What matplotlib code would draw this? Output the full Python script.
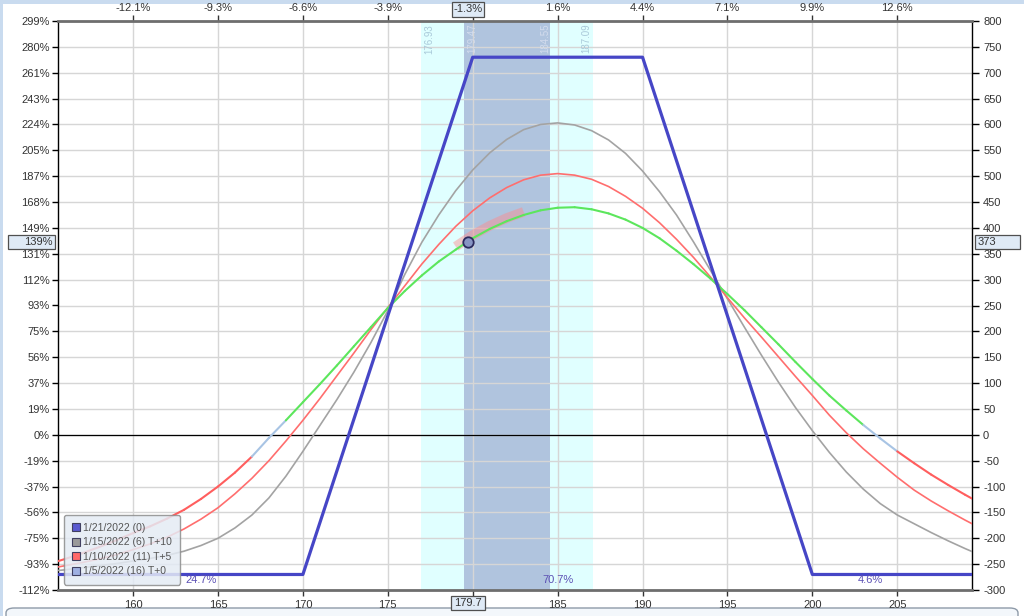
import numpy as np
import matplotlib
matplotlib.use('Agg')
import matplotlib.pyplot as plt
from matplotlib.collections import LineCollection
from matplotlib.lines import Line2D
from matplotlib.patches import Rectangle, FancyBboxPatch

plt.rcParams['font.family'] = ['Liberation Sans', 'DejaVu Sans']

# ---------------- data ----------------
price = list(range(155, 211))
pnl_t10 = [-264, -261, -257, -253, -249, -244, -239, -233, -225, -214,
           -200, -180, -155, -122, -80, -32, 18, 68, 121, 178,
           240, 310, 372, 425, 472, 512, 545, 571, 590, 600,
           603, 599, 588, 570, 544, 510, 470, 425, 373, 318,
           263, 208, 154, 102, 53, 8, -34, -72, -105, -133,
           -155, -172, -189, -205, -220, -234]
pnl_t5 = [-259, -253, -247, -240, -232, -222, -211, -198, -182, -163,
          -141, -114, -84, -50, -12, 28, 70, 114, 158, 203,
          246, 288, 330, 368, 403, 433, 458, 478, 493, 502,
          505, 502, 494, 480, 461, 438, 410, 378, 343, 305,
          265, 226, 189, 151, 113, 76, 38, 4, -27, -55,
          -82, -107, -128, -147, -165, -182]
pnl_t0 = [-250, -240, -229, -217, -204, -190, -177, -162, -145, -124,
          -100, -73, -42, -6, 28, 63, 98, 134, 171, 208,
          245, 278, 308, 335, 358, 380, 398, 413, 425, 434,
          439, 440, 436, 428, 416, 400, 380, 356, 330, 302,
          272, 241, 208, 175, 141, 108, 76, 47, 19, -7,
          -32, -55, -77, -97, -116, -134]
exp_price = [155, 170, 180, 190, 200, 210]
exp_pnl = [-270, -270, 730, 730, -270, -270]

x_ticks = [160, 165, 170, 175, 180, 185, 190, 195, 200, 205]
x_tick_labels = ['160', '165', '170', '175', '', '185', '190', '195', '200', '205']
top_tick_labels = ['-12.1%', '-9.3%', '-6.6%', '-3.9%', '', '1.6%', '4.4%',
                   '7.1%', '9.9%', '12.6%']
y_ticks = list(range(-300, 801, 50))
y_pct_labels = ['-112%', '-93%', '-75%', '-56%', '-37%', '-19%', '0%', '19%', '37%',
                '56%', '75%', '93%', '112%', '131%', '149%', '168%', '187%', '205%',
                '224%', '243%', '261%', '280%', '299%']

current_price = 179.7
current_pnl = 373
current_pct = '139%'
current_move = '-1.3%'
band_outer = [176.93, 187.09]
band_inner = [179.47, 184.55]
prob_labels = ['24.7%', '70.7%', '4.6%']
legend_labels = ['1/21/2022 (0)', '1/15/2022 (6) T+10', '1/10/2022 (11) T+5', '1/5/2022 (16) T+0']

# ---------------- figure ----------------
W, H = 1024, 616
fig = plt.figure(figsize=(W / 100, H / 100), dpi=100)
fig.patch.set_facecolor('white')
ax = fig.add_axes([58 / W, 1 - 590 / H, (972 - 58) / W, (590 - 21) / H])
ax.set_xlim(155.58, 209.4)
ax.set_ylim(-300, 800)

TXT = '#333333'

# bands
ax.axvspan(band_outer[0], band_outer[1], color='#e0ffff', zorder=0, lw=0)
ax.axvspan(band_inner[0], band_inner[1], color='#b0c4de', zorder=0.5, lw=0)

# grid
for xt in x_ticks:
    ax.axvline(xt, color='#d6d6d6', lw=1, zorder=1)
for yt in y_ticks:
    ax.axhline(yt, color='#d6d6d6', lw=1, zorder=1)
ax.axhline(0, color='black', lw=0.9, zorder=2)

# band edge labels
band_lbls = [(band_outer[0], 3, 'left', '#a9c9d9'),
             (band_inner[0], 2.5, 'left', '#d3dced'),
             (band_inner[1], 0, 'right', '#d3dced'),
             (band_outer[1], -1.5, 'right', '#a9c9d9')]
for bx, off, ha, col in band_lbls:
    ax.annotate(f'{bx:.2f}', xy=(bx, 1), xycoords=('data', 'axes fraction'),
                xytext=(off, -2), textcoords='offset points', rotation=90,
                ha=ha, va='top', fontsize=7, color=col, zorder=2)

# curves
ax.plot(price, pnl_t10, color='#a3a3a3', lw=1.2, zorder=3)
ax.plot(price, pnl_t5, color='#ff6e6e', lw=1.2, zorder=3.2)

# highlight around current point
hl = [(p, v) for p, v in zip(price, pnl_t0) if 179 <= p <= 183]
ax.plot([h[0] for h in hl], [h[1] + 6 for h in hl], color='#ff8a8a', lw=7,
        alpha=0.45, solid_capstyle='butt', zorder=3.3)

segs, cols = [], []
for i in range(len(price) - 1):
    mid = (pnl_t0[i] + pnl_t0[i + 1]) / 2
    segs.append([(price[i], pnl_t0[i]), (price[i + 1], pnl_t0[i + 1])])
    if mid >= 25:
        cols.append('#5ce65c')
    elif mid >= -40:
        cols.append('#a8c4e4')
    else:
        cols.append('#ff5e5e')
ax.add_collection(LineCollection(segs, colors=cols, linewidths=1.5, zorder=3.5,
                                 capstyle='round'))

ax.plot(exp_price, exp_pnl, color='#4646c6', lw=2.3, zorder=4)

ax.plot(current_price, current_pnl, 'o', ms=7.5, mfc='#8795c4', mec='#2b2b5e',
        mew=1.3, zorder=6)

# probability labels
for lbl, px_, py_ in zip(prob_labels, [164.0, 185.0, 203.4], [-281, -281, -281]):
    ax.text(px_, py_, lbl, ha='center', va='center', fontsize=8, color='#5b50b4',
            zorder=5)

# axes styling
for s in ['top', 'bottom']:
    ax.spines[s].set_color('#6e6e6e')
    ax.spines[s].set_linewidth(2)
for s in ['left', 'right']:
    ax.spines[s].set_color('black')
    ax.spines[s].set_linewidth(1)

ax.set_xticks(x_ticks)
ax.set_xticklabels(x_tick_labels)
ax.tick_params(axis='x', direction='out', length=4, width=1, color='#333333',
               labelsize=8, labelcolor=TXT, pad=3)
ax.yaxis.tick_right()
ax.set_yticks(y_ticks)
ax.set_yticklabels([str(v) for v in y_ticks])
ax.tick_params(axis='y', direction='out', length=5, width=1, color='black',
               labelsize=8, labelcolor=TXT, pad=3)

secy = ax.secondary_yaxis('left')
secy.set_yticks(y_ticks)
secy.set_yticklabels(y_pct_labels)
secy.tick_params(direction='out', length=4, width=1, color='black', labelsize=8,
                 labelcolor=TXT, pad=2)
secy.spines['left'].set_visible(False)

secx = ax.secondary_xaxis('top')
secx.set_xticks(x_ticks)
secx.set_xticklabels(top_tick_labels)
secx.tick_params(direction='out', length=4, width=1, color='#333333', labelsize=8,
                 labelcolor=TXT, pad=2)
secx.spines['top'].set_visible(False)

# legend
handles = [Line2D([], [], ls='none', marker='s', ms=6, mfc=c, mec='#404060', mew=0.8)
           for c in ['#5a5ad0', '#9a9a9a', '#ff6a6a', '#9fb0e2']]
leg = ax.legend(handles, legend_labels, loc='lower left', bbox_to_anchor=(0.004, 0.006),
                fontsize=7.5, frameon=True, fancybox=True, facecolor='#e4ebf4',
                edgecolor='#8c8c8c', framealpha=0.85, handlelength=0.7,
                handletextpad=0.35, labelspacing=0.42, borderpad=0.8,
                borderaxespad=0.2)
for t in leg.get_texts():
    t.set_color('#555555')
leg.set_zorder(7)

# ---------------- highlighted boxes ----------------
fig.canvas.draw()
BOXFC = '#dfeaf6'
BOXEC = '#505050'


def px_box(x0, y0, x1, y1):
    # y given in display pixels from bottom
    fig.patches.append(Rectangle((x0 / W, y0 / H), (x1 - x0) / W, (y1 - y0) / H,
                                 transform=fig.transFigure, fc=BOXFC, ec=BOXEC,
                                 lw=0.9, zorder=20))


cx, cy = ax.transData.transform((current_price, current_pnl))
ax_l, ax_b = ax.transAxes.transform((0, 0))
ax_r, ax_t = ax.transAxes.transform((1, 1))

# left (percent)
px_box(8, cy - 7, 55, cy + 7)
fig.text(53 / W, cy / H, current_pct, ha='right', va='center', fontsize=8,
         color=TXT, zorder=21)
# right (value)
px_box(975, cy - 7, 1020, cy + 7)
fig.text(978 / W, cy / H, str(current_pnl), ha='left', va='center', fontsize=8,
         color=TXT, zorder=21)
# top (move)
px_box(cx - 16, ax_t + 4, cx + 16, ax_t + 19)
fig.text(cx / W, (ax_t + 11.5) / H, current_move, ha='center', va='center',
         fontsize=8, color=TXT, zorder=21)
# bottom (price)
px_box(cx - 17, ax_b - 20, cx + 17, ax_b - 6)
fig.text(cx / W, (ax_b - 13) / H, f'{current_price}', ha='center', va='center',
         fontsize=8, color=TXT, zorder=21)

# frame decorations (behind everything)
fig.patches.append(Rectangle((0, 1 - 4 / H), 1, 4 / H, transform=fig.transFigure,
                             fc='#c9dbef', ec='none', zorder=-5))
fig.patches.append(Rectangle((0, 0), 3 / W, 1, transform=fig.transFigure,
                             fc='#c9dbef', ec='none', zorder=-5))
fig.patches.append(FancyBboxPatch((6 / W, -20 / H), 1012 / W, 28 / H,
                                  boxstyle='round,pad=0,rounding_size=0.008',
                                  transform=fig.transFigure, fc='#f3f7fb',
                                  ec='#8e9aa8', lw=1, zorder=-5))

fig.savefig('out.png', dpi=100)
